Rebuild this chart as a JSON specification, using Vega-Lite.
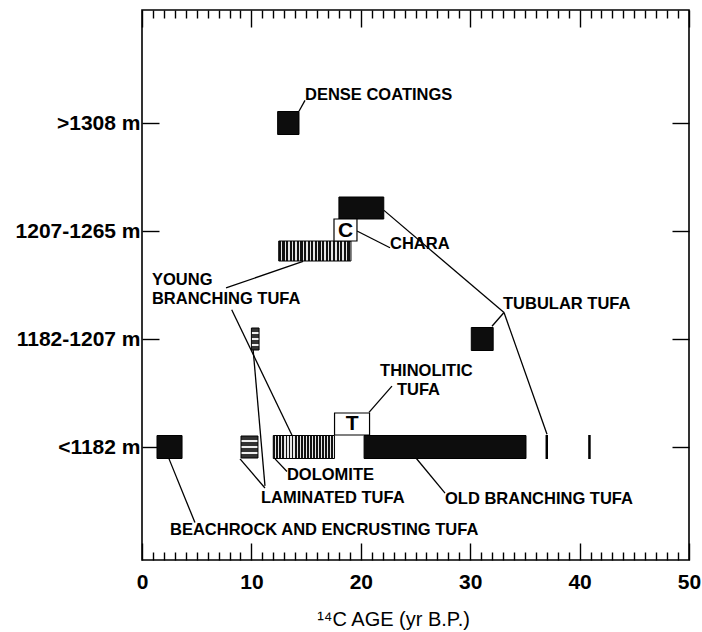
{
  "$schema": "https://vega.github.io/schema/vega-lite/v6.json",
  "width": 547,
  "height": 550,
  "autosize": {"type": "none"},
  "padding": {"left": 142, "top": 10, "right": 13, "bottom": 72},
  "background": "white",
  "config": {
    "view": {"stroke": "black", "strokeWidth": 1.6},
    "font": "Liberation Sans",
    "text": {"font": "Liberation Sans", "color": "black"}
  },
  "datasets": {
    "bars": [
      {"facies": "Dense coatings", "level": 1, "from": 12.4, "to": 14.35},
      {"facies": "Tubular tufa", "level": 2, "from": 18.0, "to": 22.1},
      {"facies": "Chara", "level": 2, "from": 17.55, "to": 19.65},
      {"facies": "Young branching tufa", "level": 2, "from": 12.5, "to": 19.1},
      {"facies": "Laminated tufa", "level": 3, "from": 10.0, "to": 10.7},
      {"facies": "Tubular tufa", "level": 3, "from": 30.1, "to": 32.1},
      {"facies": "Beachrock and encrusting tufa", "level": 4, "from": 1.37, "to": 3.66},
      {"facies": "Laminated tufa", "level": 4, "from": 9.05, "to": 10.6},
      {"facies": "Young branching tufa", "level": 4, "from": 12.0, "to": 17.6},
      {"facies": "Thinolitic tufa", "level": 4, "from": 17.6, "to": 20.8},
      {"facies": "Old branching tufa", "level": 4, "from": 20.3, "to": 35.1}
    ],
    "singles": [
      {"facies": "Tubular tufa", "level": 4, "age": 37.0},
      {"facies": "Old branching tufa", "level": 4, "age": 40.9}
    ],
    "letters": [
      {"letter": "C", "level": 2, "age": 18.6},
      {"letter": "T", "level": 4, "age": 19.2}
    ],
    "labels": [
      {"label": "DENSE COATINGS", "age": 14.9, "level": 0.745},
      {"label": "CHARA", "age": 22.67, "level": 2.118},
      {"label": "TUBULAR TUFA", "age": 33.0, "level": 2.673},
      {"label": "YOUNG", "age": 0.91, "level": 2.455},
      {"label": "BRANCHING TUFA", "age": 0.91, "level": 2.63},
      {"label": "THINOLITIC", "age": 21.76, "level": 3.3},
      {"label": "TUFA", "age": 23.3, "level": 3.473},
      {"label": "DOLOMITE", "age": 13.25, "level": 4.255},
      {"label": "LAMINATED TUFA", "age": 10.88, "level": 4.473},
      {"label": "OLD BRANCHING TUFA", "age": 27.7, "level": 4.482},
      {"label": "BEACHROCK AND ENCRUSTING TUFA", "age": 2.56, "level": 4.764}
    ],
    "leaders": [
      {"x": 14.35, "y": 0.891, "x2": 14.9, "y2": 0.791},
      {"x": 19.65, "y": 2.0, "x2": 22.67, "y2": 2.155},
      {"x": 22.12, "y": 1.809, "x2": 33.09, "y2": 2.755},
      {"x": 33.09, "y": 2.755, "x2": 31.99, "y2": 2.882},
      {"x": 33.09, "y": 2.755, "x2": 37.02, "y2": 3.882},
      {"x": 14.72, "y": 2.282, "x2": 7.68, "y2": 2.527},
      {"x": 8.2, "y": 2.73, "x2": 13.71, "y2": 3.891},
      {"x": 10.15, "y": 3.09, "x2": 11.24, "y2": 4.36},
      {"x": 8.96, "y": 4.11, "x2": 11.24, "y2": 4.38},
      {"x": 12.16, "y": 4.11, "x2": 13.25, "y2": 4.227},
      {"x": 20.75, "y": 3.68, "x2": 22.85, "y2": 3.436},
      {"x": 24.95, "y": 4.09, "x2": 27.7, "y2": 4.427},
      {"x": 2.47, "y": 4.11, "x2": 4.84, "y2": 4.7}
    ]
  },
  "resolve": {"axis": {"x": "independent", "y": "independent"}},
  "layer": [
    {
      "data": {"name": "leaders"},
      "mark": {"type": "rule", "stroke": "black", "strokeWidth": 1.3},
      "encoding": {
        "x": {"field": "x", "type": "quantitative", "scale": {"domain": [0, 50], "nice": false, "zero": false}, "axis": null},
        "y": {"field": "y", "type": "quantitative", "scale": {"domain": [0, 5], "reverse": true, "nice": false, "zero": false}, "axis": null},
        "x2": {"field": "x2"},
        "y2": {"field": "y2"}
      }
    },
    {
      "data": {"name": "bars"},
      "transform": [{"filter": "datum.facies === 'Dense coatings' || datum.facies === 'Beachrock and encrusting tufa' || datum.facies === 'Old branching tufa' || (datum.facies === 'Tubular tufa' && datum.level === 3)"}],
      "mark": {"type": "bar", "orient": "horizontal", "height": 23, "fill": "#0d0d0d", "stroke": "black", "strokeWidth": 1},
      "encoding": {
        "x": {
          "field": "from", "type": "quantitative",
          "axis": {
            "orient": "bottom",
            "values": [0,1,2,3,4,5,6,7,8,9,10,11,12,13,14,15,16,17,18,19,20,21,22,23,24,25,26,27,28,29,30,31,32,33,34,35,36,37,38,39,40,41,42,43,44,45,46,47,48,49,50],
            "tickSize": {"condition": {"test": "datum.value % 10 === 0", "value": -17}, "value": -8},
            "tickWidth": 1.4,
            "tickColor": "black",
            "domain": false,
            "grid": false,
            "labelExpr": "datum.value % 10 === 0 ? datum.label : ''",
            "labelFlush": false,
            "labelOverlap": false,
            "labelFont": "Liberation Sans",
            "labelFontSize": 21,
            "labelFontWeight": "bold",
            "labelColor": "black",
            "labelPadding": 28,
            "title": "¹⁴C AGE (yr B.P.)",
            "titleFont": "Liberation Sans",
            "titleFontSize": 20,
            "titleFontWeight": "normal",
            "titleColor": "black",
            "titlePadding": 8,
            "titleX": 251
          }
        },
        "x2": {"field": "to"},
        "y": {
          "field": "level", "type": "quantitative",
          "axis": {
            "orient": "left",
            "values": [1, 2, 3, 4],
            "labelExpr": "['', '>1308 m', '1207-1265 m', '1182-1207 m', '<1182 m'][datum.value]",
            "tickSize": -17,
            "tickWidth": 1.4,
            "tickColor": "black",
            "domain": false,
            "grid": false,
            "labelFont": "Liberation Sans",
            "labelFontSize": 21,
            "labelFontWeight": "bold",
            "labelColor": "black",
            "labelPadding": 19,
            "title": null
          }
        }
      }
    },
    {
      "data": {"name": "bars"},
      "transform": [{"filter": "datum.facies === 'Tubular tufa' && datum.level === 2"}],
      "mark": {"type": "bar", "orient": "horizontal", "height": 22, "yOffset": -23, "fill": "#0d0d0d", "stroke": "black", "strokeWidth": 1},
      "encoding": {
        "x": {
          "field": "from", "type": "quantitative",
          "axis": {
            "orient": "top",
            "values": [0,1,2,3,4,5,6,7,8,9,10,11,12,13,14,15,16,17,18,19,20,21,22,23,24,25,26,27,28,29,30,31,32,33,34,35,36,37,38,39,40,41,42,43,44,45,46,47,48,49,50],
            "tickSize": {"condition": {"test": "datum.value % 10 === 0", "value": -17}, "value": -8},
            "tickWidth": 1.4,
            "tickColor": "black",
            "domain": false,
            "grid": false,
            "labels": false,
            "title": null
          }
        },
        "x2": {"field": "to"},
        "y": {
          "field": "level", "type": "quantitative",
          "axis": {
            "orient": "right",
            "values": [1, 2, 3, 4],
            "tickSize": -17,
            "tickWidth": 1.4,
            "tickColor": "black",
            "domain": false,
            "grid": false,
            "labels": false,
            "title": null
          }
        }
      }
    },
    {
      "data": {"name": "bars"},
      "transform": [{"filter": "datum.facies === 'Young branching tufa' && datum.level === 2"}],
      "mark": {
        "type": "bar", "orient": "horizontal", "height": 20, "yOffset": 20, "stroke": "black", "strokeWidth": 1,
        "fill": {"gradient": "linear", "x1": 0, "y1": 0, "x2": 1, "y2": 0, "stops": [
          {"offset": 0, "color": "#111"}, {"offset": 0.03, "color": "#111"}, {"offset": 0.03, "color": "#e6e6e6"}, {"offset": 0.05, "color": "#e6e6e6"},
          {"offset": 0.05, "color": "#111"}, {"offset": 0.08, "color": "#111"}, {"offset": 0.08, "color": "#e6e6e6"}, {"offset": 0.10, "color": "#e6e6e6"},
          {"offset": 0.10, "color": "#111"}, {"offset": 0.13, "color": "#111"}, {"offset": 0.13, "color": "#e6e6e6"}, {"offset": 0.15, "color": "#e6e6e6"},
          {"offset": 0.15, "color": "#111"}, {"offset": 0.18, "color": "#111"}, {"offset": 0.18, "color": "#e6e6e6"}, {"offset": 0.20, "color": "#e6e6e6"},
          {"offset": 0.20, "color": "#111"}, {"offset": 0.23, "color": "#111"}, {"offset": 0.23, "color": "#e6e6e6"}, {"offset": 0.25, "color": "#e6e6e6"},
          {"offset": 0.25, "color": "#111"}, {"offset": 0.28, "color": "#111"}, {"offset": 0.28, "color": "#e6e6e6"}, {"offset": 0.30, "color": "#e6e6e6"},
          {"offset": 0.30, "color": "#111"}, {"offset": 0.33, "color": "#111"}, {"offset": 0.33, "color": "#e6e6e6"}, {"offset": 0.35, "color": "#e6e6e6"},
          {"offset": 0.35, "color": "#111"}, {"offset": 0.38, "color": "#111"}, {"offset": 0.38, "color": "#e6e6e6"}, {"offset": 0.40, "color": "#e6e6e6"},
          {"offset": 0.40, "color": "#111"}, {"offset": 0.43, "color": "#111"}, {"offset": 0.43, "color": "#e6e6e6"}, {"offset": 0.45, "color": "#e6e6e6"},
          {"offset": 0.45, "color": "#111"}, {"offset": 0.48, "color": "#111"}, {"offset": 0.48, "color": "#e6e6e6"}, {"offset": 0.50, "color": "#e6e6e6"},
          {"offset": 0.50, "color": "#111"}, {"offset": 0.53, "color": "#111"}, {"offset": 0.53, "color": "#e6e6e6"}, {"offset": 0.55, "color": "#e6e6e6"},
          {"offset": 0.55, "color": "#111"}, {"offset": 0.58, "color": "#111"}, {"offset": 0.58, "color": "#e6e6e6"}, {"offset": 0.60, "color": "#e6e6e6"},
          {"offset": 0.60, "color": "#111"}, {"offset": 0.63, "color": "#111"}, {"offset": 0.63, "color": "#e6e6e6"}, {"offset": 0.65, "color": "#e6e6e6"},
          {"offset": 0.65, "color": "#111"}, {"offset": 0.68, "color": "#111"}, {"offset": 0.68, "color": "#e6e6e6"}, {"offset": 0.70, "color": "#e6e6e6"},
          {"offset": 0.70, "color": "#111"}, {"offset": 0.73, "color": "#111"}, {"offset": 0.73, "color": "#e6e6e6"}, {"offset": 0.75, "color": "#e6e6e6"},
          {"offset": 0.75, "color": "#111"}, {"offset": 0.78, "color": "#111"}, {"offset": 0.78, "color": "#e6e6e6"}, {"offset": 0.80, "color": "#e6e6e6"},
          {"offset": 0.80, "color": "#111"}, {"offset": 0.83, "color": "#111"}, {"offset": 0.83, "color": "#e6e6e6"}, {"offset": 0.85, "color": "#e6e6e6"},
          {"offset": 0.85, "color": "#111"}, {"offset": 0.88, "color": "#111"}, {"offset": 0.88, "color": "#e6e6e6"}, {"offset": 0.90, "color": "#e6e6e6"},
          {"offset": 0.90, "color": "#111"}, {"offset": 0.93, "color": "#111"}, {"offset": 0.93, "color": "#e6e6e6"}, {"offset": 0.95, "color": "#e6e6e6"},
          {"offset": 0.95, "color": "#111"}, {"offset": 0.98, "color": "#111"}, {"offset": 0.98, "color": "#e6e6e6"}, {"offset": 1, "color": "#e6e6e6"}
        ]}
      },
      "encoding": {
        "x": {"field": "from", "type": "quantitative", "axis": null},
        "x2": {"field": "to"},
        "y": {"field": "level", "type": "quantitative", "axis": null}
      }
    },
    {
      "data": {"name": "bars"},
      "transform": [{"filter": "datum.facies === 'Young branching tufa' && datum.level === 4"}],
      "mark": {
        "type": "bar", "orient": "horizontal", "height": 23, "stroke": "black", "strokeWidth": 1,
        "fill": {"gradient": "linear", "x1": 0, "y1": 0, "x2": 1, "y2": 0, "stops": [
          {"offset": 0, "color": "#111"}, {"offset": 0.03, "color": "#111"}, {"offset": 0.03, "color": "#e6e6e6"}, {"offset": 0.05, "color": "#e6e6e6"},
          {"offset": 0.05, "color": "#111"}, {"offset": 0.08, "color": "#111"}, {"offset": 0.08, "color": "#e6e6e6"}, {"offset": 0.10, "color": "#e6e6e6"},
          {"offset": 0.10, "color": "#111"}, {"offset": 0.13, "color": "#111"}, {"offset": 0.13, "color": "#e6e6e6"}, {"offset": 0.15, "color": "#e6e6e6"},
          {"offset": 0.15, "color": "#111"}, {"offset": 0.18, "color": "#111"}, {"offset": 0.18, "color": "#e6e6e6"}, {"offset": 0.20, "color": "#e6e6e6"},
          {"offset": 0.20, "color": "#111"}, {"offset": 0.23, "color": "#111"}, {"offset": 0.23, "color": "#e6e6e6"}, {"offset": 0.25, "color": "#e6e6e6"},
          {"offset": 0.25, "color": "#111"}, {"offset": 0.28, "color": "#111"}, {"offset": 0.28, "color": "#e6e6e6"}, {"offset": 0.30, "color": "#e6e6e6"},
          {"offset": 0.30, "color": "#111"}, {"offset": 0.33, "color": "#111"}, {"offset": 0.33, "color": "#e6e6e6"}, {"offset": 0.35, "color": "#e6e6e6"},
          {"offset": 0.35, "color": "#111"}, {"offset": 0.38, "color": "#111"}, {"offset": 0.38, "color": "#e6e6e6"}, {"offset": 0.40, "color": "#e6e6e6"},
          {"offset": 0.40, "color": "#111"}, {"offset": 0.43, "color": "#111"}, {"offset": 0.43, "color": "#e6e6e6"}, {"offset": 0.45, "color": "#e6e6e6"},
          {"offset": 0.45, "color": "#111"}, {"offset": 0.48, "color": "#111"}, {"offset": 0.48, "color": "#e6e6e6"}, {"offset": 0.50, "color": "#e6e6e6"},
          {"offset": 0.50, "color": "#111"}, {"offset": 0.53, "color": "#111"}, {"offset": 0.53, "color": "#e6e6e6"}, {"offset": 0.55, "color": "#e6e6e6"},
          {"offset": 0.55, "color": "#111"}, {"offset": 0.58, "color": "#111"}, {"offset": 0.58, "color": "#e6e6e6"}, {"offset": 0.60, "color": "#e6e6e6"},
          {"offset": 0.60, "color": "#111"}, {"offset": 0.63, "color": "#111"}, {"offset": 0.63, "color": "#e6e6e6"}, {"offset": 0.65, "color": "#e6e6e6"},
          {"offset": 0.65, "color": "#111"}, {"offset": 0.68, "color": "#111"}, {"offset": 0.68, "color": "#e6e6e6"}, {"offset": 0.70, "color": "#e6e6e6"},
          {"offset": 0.70, "color": "#111"}, {"offset": 0.73, "color": "#111"}, {"offset": 0.73, "color": "#e6e6e6"}, {"offset": 0.75, "color": "#e6e6e6"},
          {"offset": 0.75, "color": "#111"}, {"offset": 0.78, "color": "#111"}, {"offset": 0.78, "color": "#e6e6e6"}, {"offset": 0.80, "color": "#e6e6e6"},
          {"offset": 0.80, "color": "#111"}, {"offset": 0.83, "color": "#111"}, {"offset": 0.83, "color": "#e6e6e6"}, {"offset": 0.85, "color": "#e6e6e6"},
          {"offset": 0.85, "color": "#111"}, {"offset": 0.88, "color": "#111"}, {"offset": 0.88, "color": "#e6e6e6"}, {"offset": 0.90, "color": "#e6e6e6"},
          {"offset": 0.90, "color": "#111"}, {"offset": 0.93, "color": "#111"}, {"offset": 0.93, "color": "#e6e6e6"}, {"offset": 0.95, "color": "#e6e6e6"},
          {"offset": 0.95, "color": "#111"}, {"offset": 0.98, "color": "#111"}, {"offset": 0.98, "color": "#e6e6e6"}, {"offset": 1, "color": "#e6e6e6"}
        ]}
      },
      "encoding": {
        "x": {"field": "from", "type": "quantitative", "axis": null},
        "x2": {"field": "to"},
        "y": {"field": "level", "type": "quantitative", "axis": null}
      }
    },
    {
      "data": {"name": "bars"},
      "transform": [{"filter": "datum.facies === 'Laminated tufa'"}],
      "mark": {
        "type": "bar", "orient": "horizontal", "height": 22, "stroke": "black", "strokeWidth": 1,
        "fill": {"gradient": "linear", "x1": 0, "y1": 0, "x2": 0, "y2": 1, "stops": [
          {"offset": 0, "color": "#333"}, {"offset": 0.18, "color": "#333"}, {"offset": 0.18, "color": "#eee"}, {"offset": 0.28, "color": "#eee"},
          {"offset": 0.28, "color": "#333"}, {"offset": 0.45, "color": "#333"}, {"offset": 0.45, "color": "#eee"}, {"offset": 0.55, "color": "#eee"},
          {"offset": 0.55, "color": "#333"}, {"offset": 0.72, "color": "#333"}, {"offset": 0.72, "color": "#eee"}, {"offset": 0.82, "color": "#eee"},
          {"offset": 0.82, "color": "#333"}, {"offset": 1, "color": "#333"}
        ]}
      },
      "encoding": {
        "x": {"field": "from", "type": "quantitative", "axis": null},
        "x2": {"field": "to"},
        "y": {"field": "level", "type": "quantitative", "axis": null}
      }
    },
    {
      "data": {"name": "bars"},
      "transform": [{"filter": "datum.facies === 'Chara'"}],
      "mark": {"type": "bar", "orient": "horizontal", "height": 22, "yOffset": -1, "fill": "white", "stroke": "black", "strokeWidth": 1.2},
      "encoding": {
        "x": {"field": "from", "type": "quantitative", "axis": null},
        "x2": {"field": "to"},
        "y": {"field": "level", "type": "quantitative", "axis": null}
      }
    },
    {
      "data": {"name": "bars"},
      "transform": [{"filter": "datum.facies === 'Thinolitic tufa'"}],
      "mark": {"type": "bar", "orient": "horizontal", "height": 22, "yOffset": -23, "fill": "white", "stroke": "black", "strokeWidth": 1.2},
      "encoding": {
        "x": {"field": "from", "type": "quantitative", "axis": null},
        "x2": {"field": "to"},
        "y": {"field": "level", "type": "quantitative", "axis": null}
      }
    },
    {
      "data": {"name": "singles"},
      "mark": {"type": "tick", "orient": "vertical", "size": 24, "thickness": 2.5, "color": "black", "opacity": 1},
      "encoding": {
        "x": {"field": "age", "type": "quantitative", "axis": null},
        "y": {"field": "level", "type": "quantitative", "axis": null}
      }
    },
    {
      "data": {"name": "letters"},
      "transform": [{"filter": "datum.letter === 'C'"}],
      "mark": {"type": "text", "fontSize": 21, "fontWeight": "bold", "align": "center", "baseline": "middle", "dy": 0, "color": "black"},
      "encoding": {
        "x": {"field": "age", "type": "quantitative", "axis": null},
        "y": {"field": "level", "type": "quantitative", "axis": null},
        "text": {"field": "letter"}
      }
    },
    {
      "data": {"name": "letters"},
      "transform": [{"filter": "datum.letter === 'T'"}],
      "mark": {"type": "text", "fontSize": 21, "fontWeight": "bold", "align": "center", "baseline": "middle", "dy": -23, "color": "black"},
      "encoding": {
        "x": {"field": "age", "type": "quantitative", "axis": null},
        "y": {"field": "level", "type": "quantitative", "axis": null},
        "text": {"field": "letter"}
      }
    },
    {
      "data": {"name": "labels"},
      "mark": {"type": "text", "fontSize": 16.5, "fontWeight": "bold", "align": "left", "baseline": "middle", "color": "black"},
      "encoding": {
        "x": {"field": "age", "type": "quantitative", "axis": null},
        "y": {"field": "level", "type": "quantitative", "axis": null},
        "text": {"field": "label"}
      }
    }
  ]
}
